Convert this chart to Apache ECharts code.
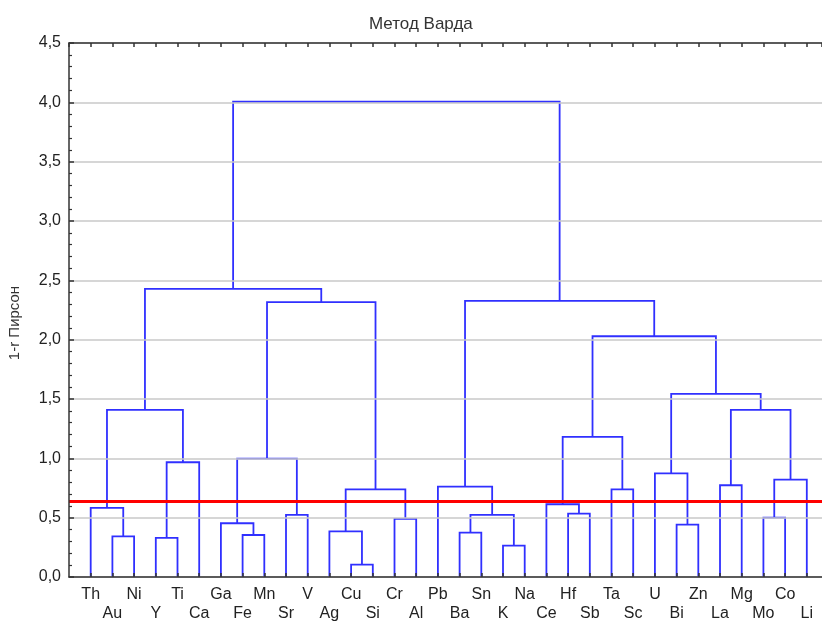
<!DOCTYPE html>
<html>
<head>
<meta charset="utf-8">
<script src="https://cdn.jsdelivr.net/npm/echarts@6/dist/echarts.min.js"></script>
<style>
  html, body { margin: 0; padding: 0; background: #fff; }
  #chart { width: 822px; height: 624px; }
</style>
</head>
<body>
<div id="chart"></div>
<script>
var leaves = ['Th', 'Au', 'Ni', 'Y', 'Ti', 'Ca', 'Ga', 'Fe', 'Mn', 'Sr', 'V', 'Ag', 'Cu', 'Si', 'Cr', 'Al',
  'Pb', 'Ba', 'Sn', 'K', 'Na', 'Ce', 'Hf', 'Sb', 'Ta', 'Sc', 'U', 'Bi', 'Zn', 'La', 'Mg', 'Mo', 'Co', 'Li'];

// linkage: node ids 0..33 are leaves, each merge makes node 34, 35, ...
var mergeLeft   = [1, 0, 3, 36, 35, 7, 6, 9, 40, 12, 11, 14, 44, 42, 38, 17, 19, 49, 16, 22, 21, 24, 54, 27, 26, 29, 31, 60, 59, 58, 56, 52, 48];
var mergeRight  = [2, 34, 4, 5, 37, 8, 39, 10, 41, 13, 43, 15, 45, 46, 47, 18, 20, 50, 51, 23, 53, 25, 55, 28, 57, 30, 32, 33, 61, 62, 63, 64, 65];
var mergeHeight = [0.343, 0.582, 0.329, 0.967, 1.408, 0.354, 0.453, 0.523, 0.998, 0.104, 0.385, 0.489, 0.739, 2.316, 2.428,
  0.374, 0.264, 0.523, 0.762, 0.534, 0.613, 0.739, 1.180, 0.441, 0.874, 0.773, 0.500, 0.820, 1.408, 1.543, 2.029, 2.327, 4.005];

var cutLevel = 0.643;
var yTicks = [0, 0.5, 1, 1.5, 2, 2.5, 3, 3.5, 4, 4.5];

var fontFamily = '"Liberation Sans", Arial, sans-serif';
var lineColor = '#3030ff';

// positions of every node along the leaf axis
var nodeX = leaves.map(function (l, i) { return i; });
var nodeH = leaves.map(function () { return 0; });
var links = [];
mergeLeft.forEach(function (l, k) {
  var r = mergeRight[k];
  var h = mergeHeight[k];
  links.push([nodeX[l], nodeH[l], nodeX[r], nodeH[r], h]);
  nodeX.push((nodeX[l] + nodeX[r]) / 2);
  nodeH.push(h);
});

function renderLink(params, api) {
  var p1 = api.coord([api.value(0), api.value(1)]);
  var p2 = api.coord([api.value(0), api.value(4)]);
  var p3 = api.coord([api.value(2), api.value(4)]);
  var p4 = api.coord([api.value(2), api.value(3)]);
  return {
    type: 'polyline',
    shape: { points: [p1, p2, p3, p4] },
    style: { fill: null, stroke: lineColor, lineWidth: 1.8 }
  };
}

function leafLabel(value) {
  var i = Math.round(value);
  if (Math.abs(value - i) > 1e-6 || i < 0 || i >= leaves.length) return '';
  return i % 2 ? '\n' + leaves[i] : leaves[i];
}

var axisStyle = { color: '#333', width: 1.5 };

var option = {
  animation: false,
  backgroundColor: '#fff',
  textStyle: { fontFamily: fontFamily },
  title: {
    text: 'Метод Варда',
    left: 364,
    top: 11,
    textStyle: { fontSize: 17, fontWeight: 'normal', color: '#333', fontFamily: fontFamily }
  },
  grid: { left: 69, right: 0, top: 43, bottom: 47, outerBoundsMode: 'none' },
  xAxis: [
    {
      type: 'value',
      min: -1,
      max: 33.7,
      interval: 1,
      position: 'bottom',
      z: 5,
      axisLine: { onZero: false, lineStyle: axisStyle },
      axisTick: { inside: true, length: 4, lineStyle: { color: '#333', width: 1.5 } },
      splitLine: { show: false },
      axisLabel: {
        formatter: leafLabel,
        color: '#222',
        fontSize: 16,
        lineHeight: 19,
        margin: 8,
        showMinLabel: false,
        showMaxLabel: false,
        hideOverlap: false
      }
    },
    {
      type: 'value',
      min: -1,
      max: 33.7,
      interval: 1,
      position: 'top',
      z: 5,
      axisLine: { onZero: false, lineStyle: axisStyle },
      axisTick: { inside: true, length: 4, lineStyle: { color: '#333', width: 1.5 } },
      splitLine: { show: false },
      axisLabel: { show: false }
    }
  ],
  yAxis: {
    type: 'value',
    min: yTicks[0],
    max: yTicks[yTicks.length - 1],
    interval: yTicks[1] - yTicks[0],
    name: '1-r Пирсон',
    nameLocation: 'middle',
    nameGap: 47,
    nameTextStyle: { fontSize: 15, color: '#333', fontFamily: fontFamily, padding: [0, 0, 0, -26] },
    z: 5,
    axisLine: { show: true, onZero: false, lineStyle: axisStyle },
    axisTick: { show: true, inside: true, length: 5, lineStyle: { color: '#333', width: 1.5 } },
    minorTick: { show: true, splitNumber: 5, length: 3, lineStyle: { color: '#333', width: 1.2 } },
    splitLine: { show: true, lineStyle: { color: '#c8c8c8', width: 1.5 } },
    axisLabel: {
      color: '#222',
      fontSize: 16,
      margin: 8,
      formatter: function (v) { return v.toFixed(1).replace('.', ','); }
    }
  },
  series: [
    {
      type: 'custom',
      name: 'dendrogram',
      xAxisIndex: 0,
      renderItem: renderLink,
      data: links,
      z: 2,
      markLine: {
        silent: true,
        symbol: 'none',
        label: { show: false },
        lineStyle: { color: '#ff0000', width: 3, type: 'solid' },
        data: [{ yAxis: cutLevel }]
      }
    }
  ]
};

var myChart = echarts.init(document.getElementById('chart'));
myChart.setOption(option);
</script>
</body>
</html>
